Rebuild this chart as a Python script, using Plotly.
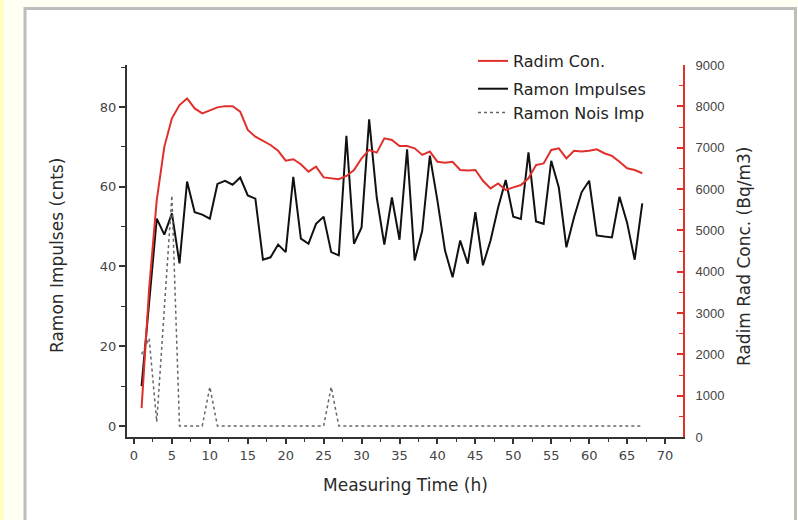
import plotly.graph_objects as go

# ---------------- data ----------------
hours = list(range(1, 68))

radim_con = [700, 3600, 5730, 7020, 7710, 8030, 8190, 7950, 7830, 7895,
             7975, 8005, 8005, 7870, 7430, 7265, 7170, 7065, 6925, 6685,
             6720, 6600, 6420, 6540, 6280, 6255, 6235, 6315, 6460, 6740,
             6945, 6880, 7225, 7185, 7040, 7040, 6985, 6825, 6905, 6660,
             6635, 6660, 6460, 6445, 6460, 6200, 6015, 6135, 5975, 6040,
             6095, 6260, 6580, 6620, 6945, 6985, 6740, 6925, 6905, 6925,
             6960, 6865, 6800, 6660, 6500, 6460, 6380]

ramon_impulses = [10, None, 52, 48, 53.3, 40.8, 61.3, 53.6, 53, 52,
                  60.7, 61.5, 60.5, 62.3, 57.8, 57, 41.7, 42.3, 45.5, 43.6,
                  62.5, 47, 45.7, 50.7, 52.5, 43.6, 42.8, 72.8, 45.7, 49.8,
                  76.9, 57.3, 45.5, 57.3, 46.7, 69.4, 41.5, 49, 67.8, 56.5,
                  44, 37.3, 46.5, 40.7, 53.6, 40.3, 46.5, 54.8, 61.7, 52.5,
                  51.9, 68.6, 51.3, 50.7, 66.5, 59.8, 44.8, 52.3, 58.6, 61.5,
                  47.8, 47.5, 47.3, 57.5, 51, 41.7, 55.8]

ramon_noise = [18, 22, 1, None, 57.8, 0, 0, 0, 0, 9.8,
               0, 0, 0, 0, 0, 0, 0, 0, 0, 0,
               0, 0, 0, 0, 0, 9.8, 0, 0, 0, 0,
               0, 0, 0, 0, 0, 0, 0, 0, 0, 0,
               0, 0, 0, 0, 0, 0, 0, 0, 0, 0,
               0, 0, 0, 0, 0, 0, 0, 0, 0, 0,
               0, 0, 0, 0, 0, 0, 0]

x_ticks = list(range(0, 75, 5))
left_ticks = [0, 20, 40, 60, 80]
right_ticks = list(range(0, 10000, 1000))

# ---------------- layout helpers (pixel -> paper) ----------------
W, H = 798, 520
L, R, T, B = 127, 115, 65, 83
PW, PH = W - L - R, H - T - B


def px(x):
    return (x - L) / PW


def py(y):
    return (H - B - y) / PH


TITLE_FONT = dict(family="DejaVu Sans", size=17, color="#2a2a2a")
TICK_FONT = dict(family="DejaVu Sans", size=13, color="#444444")
RTICK_FONT = dict(family="Liberation Sans, Arial", size=13, color="#444444")

fig = go.Figure()

fig.add_trace(go.Scatter(
    x=hours, y=radim_con, name="Radim Con.", yaxis="y2",
    mode="lines", line=dict(color="#e0302c", width=2),
    legendgroup="a"))

fig.add_trace(go.Scatter(
    x=hours, y=ramon_impulses, name="Ramon Impulses", yaxis="y",
    mode="lines", line=dict(color="#111111", width=2),
    connectgaps=True, legendgroup="b"))

fig.add_trace(go.Scatter(
    x=hours, y=ramon_noise, name="Ramon Nois Imp", yaxis="y",
    mode="lines", line=dict(color="#666666", width=1.5, dash="dot"),
    connectgaps=True, legendgroup="b"))

shapes = [
    dict(type="rect", xref="paper", yref="paper",
         x0=px(0), x1=px(4), y0=py(-5), y1=py(H + 5),
         fillcolor="#ffffc4", line=dict(width=0), layer="below"),
    dict(type="rect", xref="paper", yref="paper",
         x0=px(25), x1=px(795.5), y0=py(8.5), y1=py(H + 10),
         fillcolor="white", line=dict(color="#bdbdbd", width=3), layer="below"),
]

annotations = [
    dict(text="Ramon Impulses (cnts)", xref="paper", yref="paper",
         x=px(57), y=py(256), textangle=-90, showarrow=False,
         xanchor="center", yanchor="middle", font=TITLE_FONT),
    dict(text="Radim Rad Conc. (Bq/m3)", xref="paper", yref="paper",
         x=px(744), y=py(257), textangle=-90, showarrow=False,
         xanchor="center", yanchor="middle", font=TITLE_FONT),
    dict(text="Measuring Time (h)", xref="paper", yref="paper",
         x=px(405), y=py(485), showarrow=False,
         xanchor="center", yanchor="middle", font=TITLE_FONT),
]

fig.update_layout(
    width=W, height=H, autosize=False,
    margin=dict(l=L, r=R, t=T, b=B, pad=0),
    paper_bgcolor="#fffff4", plot_bgcolor="rgba(0,0,0,0)",
    shapes=shapes, annotations=annotations,
    showlegend=True,
    legend=dict(x=px(473), y=py(44), xanchor="left", yanchor="top",
                bgcolor="rgba(0,0,0,0)", font=dict(family="DejaVu Sans", size=16, color="#222222"),
                traceorder="grouped", tracegroupgap=4, itemwidth=30),
    xaxis=dict(range=[-0.92, 72.37], tickvals=x_ticks, ticktext=[str(v) for v in x_ticks],
               showline=True, linecolor="#333333", linewidth=2, mirror=False,
               ticks="outside", ticklen=5, tickwidth=1.5, tickcolor="#333333",
               minor=dict(dtick=2.5, tick0=0, ticks="outside", ticklen=3, tickcolor="#333333", tickwidth=1.2),
               showgrid=False, zeroline=False, tickfont=TICK_FONT),
    yaxis=dict(range=[-2.76, 90.53], tickvals=left_ticks, ticktext=[str(v) for v in left_ticks],
               showline=True, linecolor="#333333", linewidth=2,
               ticks="outside", ticklen=6, tickwidth=1.5, tickcolor="#333333",
               minor=dict(dtick=10, tick0=0, ticks="outside", ticklen=4, tickcolor="#333333", tickwidth=1.2),
               showgrid=False, zeroline=False, tickfont=TICK_FONT),
    yaxis2=dict(range=[0, 9000], overlaying="y", side="right", anchor="x",
                tickvals=right_ticks, ticktext=[str(v) for v in right_ticks],
                showline=True, linecolor="#e0302c", linewidth=2,
                ticks="inside", ticklen=6, tickwidth=1.5, tickcolor="#e0302c",
                minor=dict(dtick=500, tick0=0, ticks="inside", ticklen=4, tickcolor="#e0302c", tickwidth=1.2),
                ticklabelstandoff=8,
                showgrid=False, zeroline=False, tickfont=RTICK_FONT),
)

fig.write_html("out.html")
